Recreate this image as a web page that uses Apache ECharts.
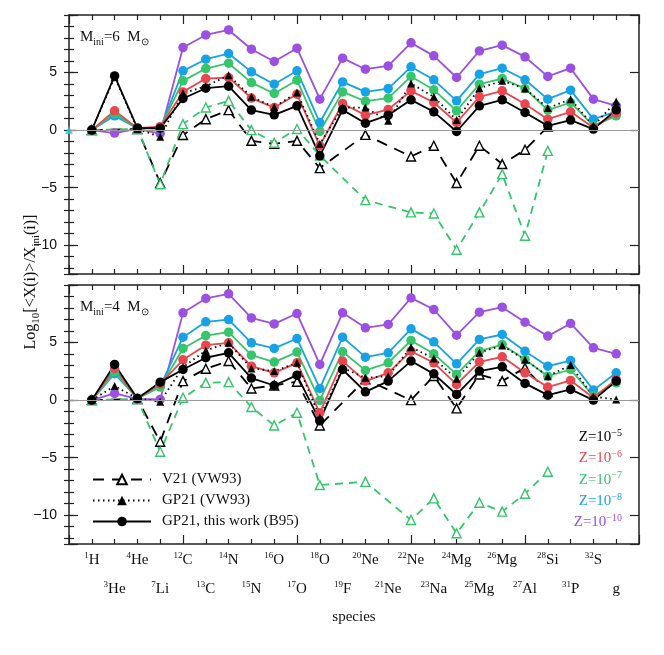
<!DOCTYPE html>
<html>
<head>
<meta charset="utf-8">
<script src="https://cdn.jsdelivr.net/npm/echarts@6/dist/echarts.min.js"></script>
<style>html,body{margin:0;padding:0;background:#fff}#chart{width:664px;height:655px}</style>
</head>
<body>
<div id="chart"></div>
<script>
// species along x (index 1..24)
const massNums = ['1','3','4','7','12','13','14','15','16','17','18','19','20','21','22','23','24','25','26','27','28','31','32',''];
const elements = ['H','He','He','Li','C','C','N','N','O','O','O','F','Ne','Ne','Ne','Na','Mg','Mg','Mg','Al','Si','P','S','g'];

// M_ini = 6 Msun (top panel)
const m6_z5  = [0, 4.71, 0.17, 0.17, 2.75, 3.64, 3.82, 1.74, 1.33, 2.11, -2.23, 1.76, 0.6, 1.3, 2.63, 1.59, -0.12, 2.11, 2.63, 1.53, 0.37, 0.87, 0.09, 1.76];
const m6_z6  = [0, 1.68, 0.17, 0.3, 3.32, 4.48, 4.57, 2.78, 1.96, 3.12, -1.36, 2.31, 1.3, 1.79, 3.41, 2.4, 0.66, 2.89, 3.41, 2.26, 0.95, 1.59, 0.23, 1.47];
const m6_z7  = [0, 1.45, 0.17, 0.2, 4.28, 5.35, 5.81, 4.13, 3.18, 4.34, -0.12, 3.32, 2.51, 2.78, 4.66, 3.5, 1.68, 3.99, 4.48, 3.61, 1.74, 2.4, 0.37, 1.24];
const m6_z8  = [0, 1.24, 0.17, 0.1, 5.15, 6.16, 6.65, 5.06, 3.99, 5.15, 0.66, 4.19, 3.32, 3.61, 5.5, 4.37, 2.54, 4.86, 5.38, 4.37, 2.69, 3.47, 0.95, 1.6];
const m6_z10 = [0, -0.26, 0.1, -0.3, 7.17, 8.27, 8.7, 7.03, 5.96, 7.12, 2.69, 6.25, 5.29, 5.58, 7.58, 6.45, 4.57, 6.88, 7.38, 6.36, 4.66, 5.38, 2.69, 2.11];
const m6_vw93 = [0, 4.6, 0.1, -0.58, 3.2, 3.8, 4.77, 2.89, 2.0, 3.27, -1.2, 1.96, 1.96, 0.81, 4.05, 2.89, 0.87, 3.64, 4.28, 3.61, 1.91, 2.69, 0.37, 2.48];
const m6_v21_z5 = [0, null, 0.1, -4.6, -0.43, 0.95, 1.74, -0.93, -1.2, -0.93, -3.3, null, -0.41, null, -2.29, -1.36, -4.6, -1.36, -2.95, -1.71, 0.3, null, null, null];
const m6_v21_z7 = [0, null, 0.1, -4.7, 0.52, 1.96, 2.54, 0.0, -1.1, 0.1, -2.2, null, -6.08, null, -7.15, -7.24, -10.39, -7.15, -3.82, -9.18, -1.8, null, null, null];

// M_ini = 4 Msun (bottom panel)
const m4_z5  = [0, 3.1, 0.15, 1.56, 2.66, 3.68, 4.11, 1.91, 1.27, 2.17, -1.8, 2.66, 0.72, 1.65, 3.39, 2.28, 0.49, 2.52, 2.89, 1.45, 0.43, 0.93, 0.0, 1.65];
const m4_z6  = [0, 2.75, 0.15, 1.4, 3.5, 4.77, 4.98, 2.95, 2.37, 3.24, -1.1, 3.39, 1.65, 2.37, 4.25, 3.24, 1.36, 3.33, 3.76, 2.37, 1.13, 1.71, 0.2, 1.8];
const m4_z7  = [0, 2.46, 0.15, 1.13, 4.49, 5.61, 5.9, 3.9, 3.3, 4.17, -0.03, 4.2, 2.58, 3.24, 5.18, 4.02, 2.23, 4.25, 4.83, 3.53, 2.08, 2.66, 0.35, 1.5];
const m4_z8  = [0, 2.3, 0.15, 1.2, 5.47, 6.8, 7.0, 4.98, 4.49, 5.35, 1.01, 5.47, 3.73, 4.11, 6.19, 5.06, 3.15, 5.27, 5.7, 4.25, 2.95, 3.44, 0.87, 2.37];
const m4_z10 = [0, 0.58, 0.1, 0.06, 7.58, 8.83, 9.23, 7.14, 6.62, 7.52, 3.1, 7.58, 6.28, 6.57, 8.88, 7.87, 5.64, 7.64, 8.07, 6.77, 5.56, 6.66, 4.54, 4.02];
const m4_vw93 = [0, 1.22, 0.15, -0.14, 2.86, 4.31, 4.98, 2.75, 2.52, 3.24, -1.5, 2.8, 1.94, 2.08, 4.6, 3.62, 1.85, 4.11, 4.75, 3.5, 2.08, 3.04, 0.3, 0.06];
const m4_v21_z5 = [0, null, 0.1, -3.62, 1.65, 2.72, 3.4, 1.01, 1.27, 1.6, -2.2, null, 1.8, null, 0.0, 2.1, -0.72, 2.23, 1.65, 2.8, 0.7, null, null, null];
const m4_v21_z7 = [0, null, 0.1, -4.49, 0.2, 1.5, 1.56, -0.6, -2.2, -1.1, -7.38, null, -7.1, null, -10.42, -8.54, -11.57, -8.91, -9.69, -8.13, -6.22, null, null, null];

const zLabels = ['−5', '−6', '−7', '−8', '−10'];
const zColors = ['#000000', '#e8474f', '#35c56a', '#18a2e6', '#9b50e2'];

const SERIF = 'Liberation Serif';
const chart = echarts.init(document.getElementById('chart'));

function pts(arr) {
  return arr.map((v, i) => [i + 1, v]).filter(d => d[1] !== null);
}

function solid(name, arr, g, color) {
  return {
    name, type: 'line', xAxisIndex: g * 2, yAxisIndex: g * 4, data: pts(arr),
    symbol: 'circle', symbolSize: 9.5, color,
    lineStyle: { color, width: 1.8 }, itemStyle: { color }
  };
}
function dotted(name, arr, g) {
  return {
    name, type: 'line', xAxisIndex: g * 2, yAxisIndex: g * 4, data: pts(arr),
    symbol: 'triangle', symbolSize: 8, color: '#000',
    lineStyle: { color: '#000', width: 1.8, type: [1.5, 3.5] }, itemStyle: { color: '#000' }
  };
}
function dashed(name, arr, g, color, dash) {
  return {
    name, type: 'line', xAxisIndex: g * 2, yAxisIndex: g * 4, data: pts(arr),
    symbol: 'triangle', symbolSize: 9, color,
    lineStyle: { color, width: 1.8, type: dash },
    itemStyle: { color: '#fff', borderColor: color, borderWidth: 1.4 }
  };
}

function panel(g, z5, z6, z7, z8, z10, vw, v5, v7, named) {
  const s = [
    dashed(named ? 'V21 (VW93)' : 'v21a' + g, v5, g, '#000', [11, 8]),
    dashed('v21g' + g, v7, g, zColors[2], [8, 6]),
    solid('p' + g, z10, g, zColors[4]),
    solid('b' + g, z8, g, zColors[3]),
    solid('gr' + g, z7, g, zColors[2]),
    solid('r' + g, z6, g, zColors[1]),
    solid(named ? 'GP21, this work (B95)' : 'k' + g, z5, g, '#000'),
    dotted(named ? 'GP21 (VW93)' : 'd' + g, vw, g)
  ];
  s[0].markLine = {
    silent: true, symbol: 'none', label: { show: false },
    lineStyle: { color: '#999', width: 1, type: 'solid' }, data: [{ yAxis: 0 }]
  };
  return s;
}

const tickStyle = { color: '#222', width: 1.2 };
function xAxes(g, pos) {
  return {
    type: 'value', gridIndex: g, position: pos, min: 0, max: 25, interval: 5,
    axisLine: { show: true, onZero: false, lineStyle: { color: '#222', width: 1.5 } },
    axisTick: { show: true, inside: true, length: 9, lineStyle: tickStyle },
    minorTick: { show: true, splitNumber: 5, length: 5, lineStyle: tickStyle },
    axisLabel: { show: false }, splitLine: { show: false }
  };
}
function yMajor(g, pos, labels) {
  return {
    type: 'value', gridIndex: g, position: pos, min: -12.5, max: 10, splitNumber: 5,
    axisLine: { show: true, onZero: false, lineStyle: { color: '#222', width: 1.5 } },
    axisTick: { show: true, inside: true, length: 9, lineStyle: tickStyle },
    axisLabel: {
      show: labels, margin: 12, fontFamily: 'Liberation Sans', fontSize: 14, color: '#111',
      formatter: v => (v % 5 === 0 && v < 10) ? String(v).replace('-', '−') : ''
    },
    splitLine: { show: false }
  };
}
function yMinor(g, pos) {
  return {
    type: 'value', gridIndex: g, position: pos, min: -12.5, max: 10, splitNumber: 22,
    axisLine: { show: false }, axisLabel: { show: false }, splitLine: { show: false },
    axisTick: { show: true, inside: true, length: 5, lineStyle: tickStyle }
  };
}
const labelRich = {
  s: { fontFamily: SERIF, fontSize: 9, verticalAlign: 'top', color: '#111' },
  n: { fontFamily: SERIF, fontSize: 15, lineHeight: 18, color: '#111' }
};
function speciesLabel(v) {
  const i = v - 1;
  if (i < 0 || i >= elements.length) return '';
  return (massNums[i] ? '{s|' + massNums[i] + '}' : '') + '{n|' + elements[i] + '}';
}
function labelAxis(step, margin, odd) {
  return {
    type: 'value', gridIndex: 1, position: 'bottom', min: 0, max: 25, interval: step,
    axisLine: { show: false }, axisTick: { show: false }, splitLine: { show: false },
    axisLabel: {
      show: true, margin, showMinLabel: true, showMaxLabel: true, rich: labelRich,
      formatter: v => (odd ? (v % 2 === 1) : (v % 2 === 0)) ? speciesLabel(v) : ''
    }
  };
}

const textRich = {
  n: { fontFamily: SERIF, fontSize: 15, lineHeight: 20, fill: '#111' },
  sub: { fontFamily: SERIF, fontSize: 10, verticalAlign: 'bottom', fill: '#111' }
};
const titleRich = {
  n: { fontFamily: SERIF, fontSize: 16, lineHeight: 21, fill: '#111' },
  sub: { fontFamily: SERIF, fontSize: 11, verticalAlign: 'bottom', fill: '#111' }
};

const graphics = [
  { type: 'text', left: 80, top: 30, style: { text: '{n|M}{sub|ini}{n|=6  M}{sub|⊙}', rich: textRich } },
  { type: 'text', left: 80, top: 300, style: { text: '{n|M}{sub|ini}{n|=4  M}{sub|⊙}', rich: textRich } },
  {
    type: 'text', x: 31, y: 282, rotation: Math.PI / 2,
    style: {
      text: '{n|Log}{sub|10}{n|[<X(i)>/X}{sub|ini}{n|(i)]}', align: 'center', verticalAlign: 'middle',
      rich: titleRich
    }
  },
  { type: 'text', x: 354, y: 617, style: { text: 'species', font: '15px "Liberation Serif"', fill: '#111', align: 'center', verticalAlign: 'middle' } }
];
zLabels.forEach((z, k) => {
  graphics.push({
    type: 'text', x: 622, y: 437 + k * 21.3,
    style: {
      text: '{a|Z=10}{b|' + z + '}', align: 'right', verticalAlign: 'middle',
      rich: {
        a: { fontFamily: SERIF, fontSize: 15, lineHeight: 18, fill: zColors[k] },
        b: { fontFamily: SERIF, fontSize: 10, verticalAlign: 'top', fill: zColors[k] }
      }
    }
  });
});

const option = {
  backgroundColor: '#fff',
  animation: false,
  grid: [
    { left: 69, top: 15, width: 570, height: 259 },
    { left: 69, top: 285, width: 570, height: 259 }
  ],
  xAxis: [
    xAxes(0, 'bottom'), xAxes(0, 'top'),
    xAxes(1, 'bottom'), xAxes(1, 'top'),
    labelAxis(1, 7, true), labelAxis(2, 36, false)
  ],
  yAxis: [
    yMajor(0, 'left', true), yMinor(0, 'left'), yMajor(0, 'right', false), yMinor(0, 'right'),
    yMajor(1, 'left', true), yMinor(1, 'left'), yMajor(1, 'right', false), yMinor(1, 'right')
  ],
  legend: {
    data: ['V21 (VW93)', 'GP21 (VW93)', 'GP21, this work (B95)'],
    orient: 'vertical', left: 87, top: 466, itemWidth: 58, itemHeight: 12, itemGap: 4,
    selectedMode: false,
    textStyle: { fontFamily: SERIF, fontSize: 15, lineHeight: 17, color: '#111', padding: [0, 0, 0, 6] }
  },
  graphic: graphics,
  series: [
    ...panel(0, m6_z5, m6_z6, m6_z7, m6_z8, m6_z10, m6_vw93, m6_v21_z5, m6_v21_z7, true),
    ...panel(1, m4_z5, m4_z6, m4_z7, m4_z8, m4_z10, m4_vw93, m4_v21_z5, m4_v21_z7, false),
    {
      name: 'edge', type: 'scatter', xAxisIndex: 0, yAxisIndex: 0, data: [[0, 0]],
      symbol: 'triangle', symbolSize: 8, clip: false, itemStyle: { color: '#19d3f0' }
    }
  ]
};
chart.setOption(option);
</script>
</body>
</html>
